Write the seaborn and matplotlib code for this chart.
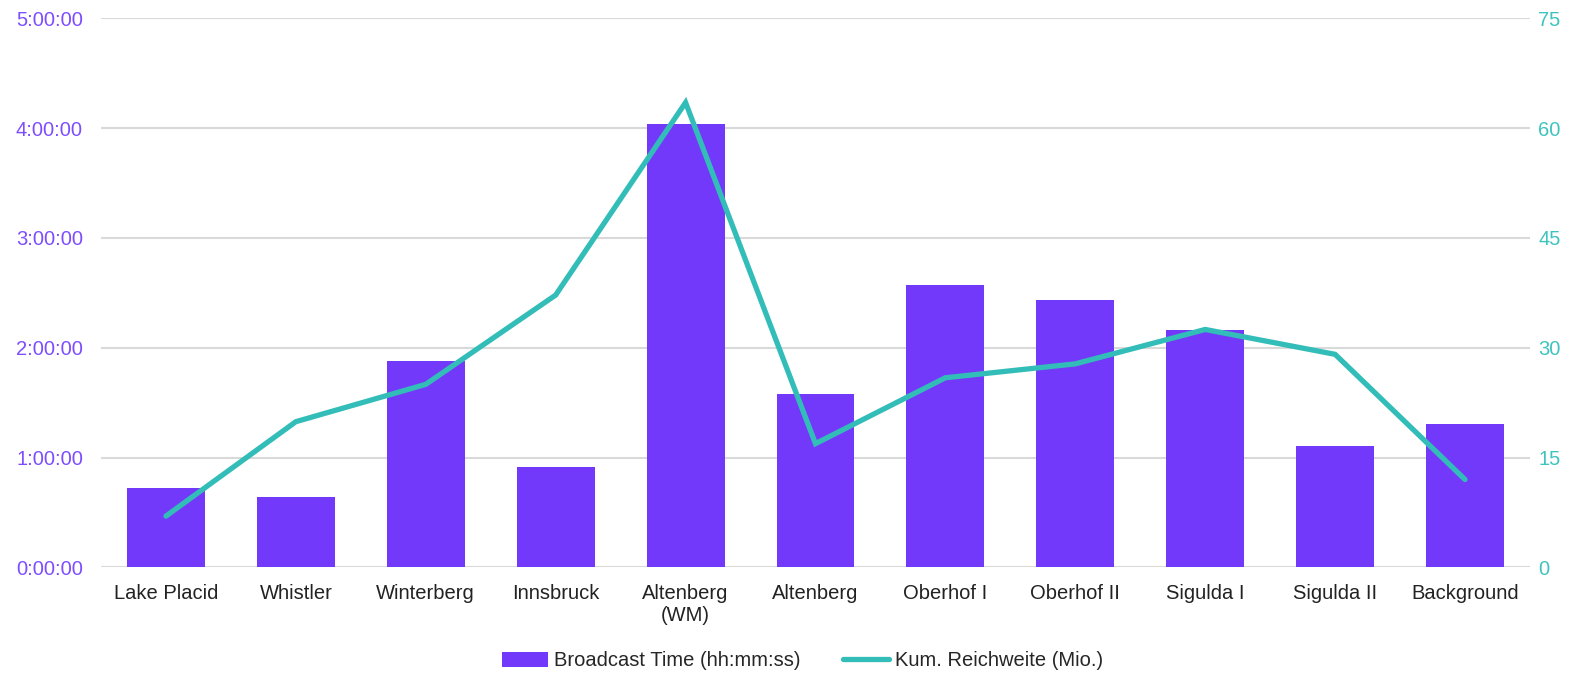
import matplotlib
matplotlib.use("Agg")
import matplotlib.pyplot as plt
import seaborn as sns
import pandas as pd
import numpy as np
from matplotlib.ticker import FuncFormatter, MultipleLocator
from matplotlib.patches import Patch
from matplotlib.lines import Line2D

categories = ["Lake Placid", "Whistler", "Winterberg", "Innsbruck", "Altenberg\n(WM)",
              "Altenberg", "Oberhof I", "Oberhof II", "Sigulda I", "Sigulda II", "Background"]
broadcast_time = ["0:43:34", "0:38:36", "1:53:00", "0:54:36", "4:02:10",
                  "1:34:38", "2:34:22", "2:26:00", "2:09:36", "1:06:11", "1:18:18"]
reichweite = [7.0, 19.9, 25.0, 37.2, 63.5, 16.9, 25.9, 27.8, 32.5, 29.1, 12.0]

def to_hours(s):
    h, m, sec = (int(p) for p in s.split(":"))
    return h + m / 60 + sec / 3600

df = pd.DataFrame({
    "cat": categories,
    "hours": [to_hours(s) for s in broadcast_time],
    "reach": reichweite,
})

PURPLE = "#7239fa"
TEAL = "#33bdb8"
LPURPLE = "#7d4dff"
LTEAL = "#3ec4bf"
FS = 14.5

sns.set_style("white")
plt.rcParams["font.family"] = ["Liberation Sans", "DejaVu Sans"]

fig = plt.figure(figsize=(15.83, 6.73), dpi=100)
ax = fig.add_axes([0.0638, 0.157, 0.9027, 0.8157])

sns.barplot(data=df, x="cat", y="hours", color=PURPLE, width=0.6, ax=ax,
            saturation=1, linewidth=0, zorder=2)
ax.set_ylim(0, 5)
ax.yaxis.set_major_locator(MultipleLocator(1))
ax.yaxis.set_major_formatter(FuncFormatter(lambda v, p: f"{int(round(v))}:00:00"))
ax.grid(axis="y", color="#d9d9d9", linewidth=1.5, zorder=0)
ax.set_axisbelow(True)
for s in ax.spines.values():
    s.set_visible(False)
ax.set_xlabel("")
ax.set_ylabel("")
ax.tick_params(axis="y", colors=LPURPLE, labelsize=FS, length=0, pad=13)
ax.tick_params(axis="x", colors="#222222", labelsize=FS, length=0, pad=12)
for t in ax.get_xticklabels():
    t.set_linespacing(1.2)
ax.set_xlim(-0.5, len(categories) - 0.5)

ax2 = ax.twinx()
sns.lineplot(x=np.arange(len(categories)), y=df["reach"].values, color=TEAL,
             linewidth=3.8, ax=ax2, solid_capstyle="round", solid_joinstyle="miter", zorder=3)
ax2.set_ylim(0, 75)
ax2.yaxis.set_major_locator(MultipleLocator(15))
for s in ax2.spines.values():
    s.set_visible(False)
ax2.tick_params(axis="y", colors=LTEAL, labelsize=FS, length=0, pad=6)
ax2.set_ylabel("")
ax2.grid(False)

handles = [Patch(facecolor=PURPLE, edgecolor="none"),
           Line2D([0], [0], color=TEAL, linewidth=3.8, solid_capstyle="round")]
labels = ["Broadcast Time (hh:mm:ss)", "Kum. Reichweite (Mio.)"]
fig.legend(handles, labels, loc="center", bbox_to_anchor=(0.507, 0.018), ncol=2,
           frameon=False, fontsize=FS, handlelength=2.3, handleheight=0.8,
           handletextpad=0.3, columnspacing=2.1)

fig.savefig("out.png", dpi=100)
